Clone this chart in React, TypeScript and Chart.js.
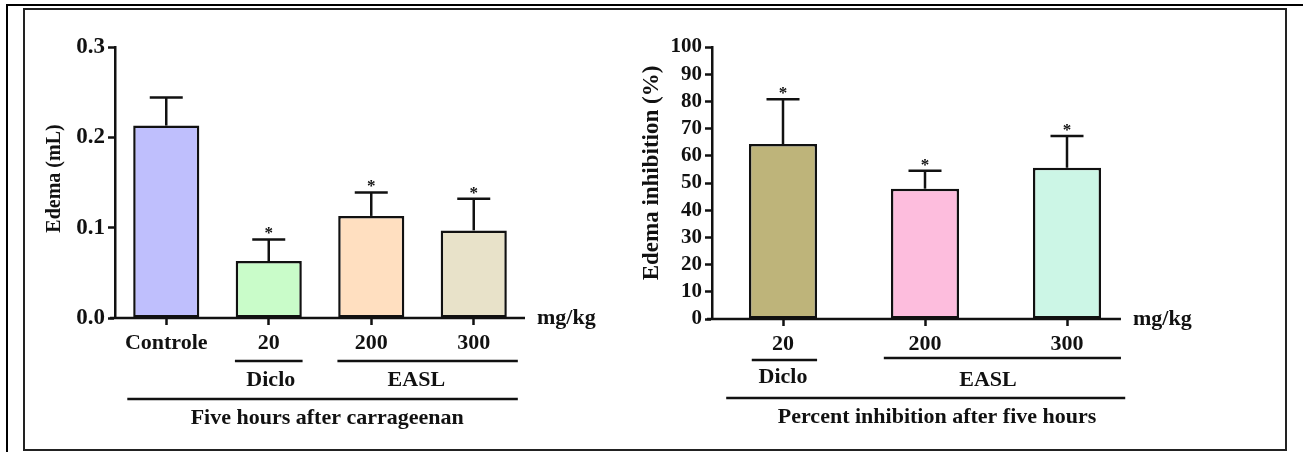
import React, { useEffect, useRef } from 'react';
import { Chart, registerables } from 'chart.js';

Chart.register(...registerables);

// ---------- data ----------
const leftCategories = ['Controle', '20', '200', '300'];
const leftValues = [0.213, 0.063, 0.113, 0.097];
const leftErrors = [0.031, 0.024, 0.026, 0.035];
const leftSignificant = [false, true, true, true];
const leftColors = ['#BFBFFD', '#C9FCC9', '#FFDFC0', '#E8E2C9'];
const leftGroups = [
  { label: 'Diclo', from: 1, to: 1 },
  { label: 'EASL', from: 2, to: 3 },
];
const leftCaption = 'Five hours after carrageenan';
const leftYTitle = 'Edema (mL)';

const rightCategories = ['20', '200', '300'];
const rightValues = [64.3, 47.9, 55.6];
const rightErrors = [16.5, 6.6, 11.7];
const rightSignificant = [true, true, true];
const rightColors = ['#BEB47A', '#FDBDDD', '#CCF6E6'];
const rightGroups = [
  { label: 'Diclo', from: 0, to: 0 },
  { label: 'EASL', from: 1, to: 2 },
];
const rightCaption = 'Percent inhibition after five hours';
const rightYTitle = 'Edema inhibition (%)';

const unitLabel = 'mg/kg';

const FONT = "'Liberation Serif', 'Times New Roman', serif";

const decorPlugin = {
  id: 'decor',
  afterDatasetsDraw(chart: any, _args: any, o: any) {
    const ctx = chart.ctx;
    const x = chart.scales.x;
    const y = chart.scales.y;
    const ca = chart.chartArea;
    const n = o.values.length;
    const sp = n > 1 ? x.getPixelForValue(1) - x.getPixelForValue(0) : 100;
    const line = (x1: number, y1: number, x2: number, y2: number, w = 2.5) => {
      ctx.lineWidth = w;
      ctx.beginPath();
      ctx.moveTo(x1, y1);
      ctx.lineTo(x2, y2);
      ctx.stroke();
    };
    ctx.save();
    ctx.strokeStyle = '#111';
    ctx.fillStyle = '#111';
    ctx.lineCap = 'butt';

    // error bars + significance stars
    o.values.forEach((v: number, i: number) => {
      const cx = x.getPixelForValue(i);
      const base = y.getPixelForValue(v);
      const top = y.getPixelForValue(v + o.errors[i]);
      line(cx, base, cx, top);
      line(cx - o.capHalf, top, cx + o.capHalf, top);
      if (o.sig[i]) {
        ctx.font = `bold 17px ${FONT}`;
        ctx.textAlign = 'center';
        ctx.textBaseline = 'alphabetic';
        ctx.fillText('*', cx, top - 1);
      }
    });

    // x axis line
    const end = x.getPixelForValue(n - 1) + o.axisEndFrac * sp;
    line(ca.left - 5, ca.bottom, end, ca.bottom, 2.5);

    // unit label
    ctx.font = `bold 22px ${FONT}`;
    ctx.textAlign = 'left';
    ctx.textBaseline = 'middle';
    ctx.fillText(o.unit, end + 12, ca.bottom);

    // group lines & labels
    ctx.textAlign = 'center';
    ctx.font = `bold 22px ${FONT}`;
    o.groups.forEach((g: any, gi: number) => {
      const st = o.groupStyle[gi];
      const x1 = x.getPixelForValue(g.from) + st.l * sp;
      const x2 = x.getPixelForValue(g.to) + st.r * sp;
      line(x1, ca.bottom + st.lineDy, x2, ca.bottom + st.lineDy, 2.5);
      const tx = (x.getPixelForValue(g.from) + x.getPixelForValue(g.to)) / 2 + st.tx * sp;
      ctx.fillText(g.label, tx, ca.bottom + st.textDy);
    });

    // caption line and text
    const c = o.captionStyle;
    const cx1 = x.getPixelForValue(0) + c.l * sp;
    const cx2 = x.getPixelForValue(n - 1) + c.r * sp;
    line(cx1, ca.bottom + c.lineDy, cx2, ca.bottom + c.lineDy, 2.5);
    const ctx0 = (x.getPixelForValue(0) + x.getPixelForValue(n - 1)) / 2 + c.tx * sp;
    ctx.font = `bold 22px ${FONT}`;
    ctx.fillText(o.caption, ctx0, ca.bottom + c.textDy);

    // y title
    ctx.save();
    ctx.translate(ca.left - o.yTitleDx, (ca.top + ca.bottom) / 2 + o.yTitleDy);
    ctx.rotate(-Math.PI / 2);
    ctx.font = `bold ${o.yTitleSize}px ${FONT}`;
    ctx.textAlign = 'center';
    ctx.textBaseline = 'middle';
    ctx.fillText(o.yTitle, 0, 0);
    ctx.restore();

    ctx.restore();
  },
};

function makeConfig(p: any) {
  return {
    type: 'bar',
    data: {
      labels: p.labels,
      datasets: [
        {
          data: p.values,
          backgroundColor: p.colors,
          borderColor: '#111',
          borderWidth: 2.5,
          borderSkipped: false,
          barPercentage: p.barPct,
          categoryPercentage: 1,
        },
      ],
    },
    options: {
      responsive: false,
      animation: false,
      devicePixelRatio: 1,
      layout: { padding: p.padding },
      plugins: {
        legend: { display: false },
        tooltip: { enabled: false },
        title: { display: false },
        decor: {
          values: p.values,
          errors: p.errors,
          sig: p.sig,
          capHalf: 16.5,
          axisEndFrac: p.axisEndFrac,
          unit: unitLabel,
          groups: p.groups,
          groupStyle: p.groupStyle,
          caption: p.caption,
          captionStyle: p.captionStyle,
          yTitle: p.yTitle,
          yTitleDx: 60,
          yTitleDy: p.yTitleDy,
          yTitleSize: p.yTitleSize,
        },
      },
      scales: {
        x: {
          type: 'category',
          offset: true,
          border: { display: false },
          grid: {
            display: true,
            offset: false,
            drawOnChartArea: false,
            drawTicks: true,
            tickLength: 7,
            tickWidth: 2.5,
            tickColor: '#111',
          },
          ticks: {
            color: '#111',
            padding: 5,
            font: { family: FONT, size: 22, weight: 'bold' },
            maxRotation: 0,
            autoSkip: false,
          },
          afterFit: (s: any) => {
            s.height = 44;
          },
        },
        y: {
          min: p.yMin,
          max: p.yMax,
          border: { display: true, color: '#111', width: 2.5 },
          grid: {
            display: true,
            drawOnChartArea: false,
            drawTicks: true,
            tickLength: 7,
            tickWidth: 2.5,
            tickColor: '#111',
          },
          ticks: {
            stepSize: p.yStep,
            autoSkip: false,
            color: '#111',
            padding: 3,
            font: { family: FONT, size: p.yTickSize, weight: 'bold' },
            callback: p.yFormat,
          },
          afterFit: (s: any) => {
            s.width = 60;
          },
        },
      },
    },
    plugins: [decorPlugin],
  };
}

export default function App() {
  const leftRef = useRef<HTMLCanvasElement>(null);
  const rightRef = useRef<HTMLCanvasElement>(null);

  useEffect(() => {
    const left = new Chart(
      leftRef.current as HTMLCanvasElement,
      makeConfig({
        labels: leftCategories,
        values: leftValues,
        errors: leftErrors,
        sig: leftSignificant,
        colors: leftColors,
        barPct: 0.645,
        padding: { left: 55, top: 47, right: 778, bottom: 90 },
        yMin: 0,
        yMax: 0.3,
        yStep: 0.1,
        yTickSize: 23,
        yFormat: (v: any) => Number(v).toFixed(1),
        axisEndFrac: 0.5,
        groups: leftGroups,
        groupStyle: [
          { l: -0.33, r: 0.33, lineDy: 43, textDy: 62, tx: 0.02 },
          { l: -0.33, r: 0.43, lineDy: 43, textDy: 62, tx: -0.06 },
        ],
        caption: leftCaption,
        captionStyle: { l: -0.38, r: 0.43, lineDy: 81, textDy: 100, tx: 0.07 },
        yTitle: leftYTitle,
        yTitleDy: -4,
        yTitleSize: 20,
      }) as any
    );
    const right = new Chart(
      rightRef.current as HTMLCanvasElement,
      makeConfig({
        labels: rightCategories,
        values: rightValues,
        errors: rightErrors,
        sig: rightSignificant,
        colors: rightColors,
        barPct: 0.48,
        padding: { left: 652, top: 47, right: 165, bottom: 89 },
        yMin: 0,
        yMax: 100,
        yStep: 10,
        yTickSize: 21,
        yFormat: (v: any) => String(v),
        axisEndFrac: 0.38,
        groups: rightGroups,
        groupStyle: [
          { l: -0.22, r: 0.24, lineDy: 41, textDy: 58, tx: 0 },
          { l: -0.29, r: 0.38, lineDy: 39, textDy: 61, tx: -0.056 },
        ],
        caption: rightCaption,
        captionStyle: { l: -0.4, r: 0.41, lineDy: 79, textDy: 98, tx: 0.085 },
        yTitle: rightYTitle,
        yTitleDy: -10,
        yTitleSize: 23,
      }) as any
    );
    return () => {
      left.destroy();
      right.destroy();
    };
  }, []);

  return (
    <div
      style={{
        position: 'fixed',
        left: 0,
        top: 0,
        width: 1303,
        height: 452,
        background: '#fff',
        overflow: 'hidden',
      }}
    >
      <div style={{ position: 'absolute', left: 6, top: 4, width: 1297, height: 2, background: '#000' }} />
      <div style={{ position: 'absolute', left: 6, top: 4, width: 2, height: 448, background: '#000' }} />
      <div
        style={{
          position: 'absolute',
          left: 23,
          top: 8,
          width: 1260,
          height: 439,
          border: '2px solid #222',
        }}
      />
      <canvas
        ref={leftRef}
        width={1303}
        height={452}
        style={{ position: 'absolute', left: 0, top: 0, width: 1303, height: 452 }}
      />
      <canvas
        ref={rightRef}
        width={1303}
        height={452}
        style={{ position: 'absolute', left: 0, top: 0, width: 1303, height: 452 }}
      />
    </div>
  );
}
